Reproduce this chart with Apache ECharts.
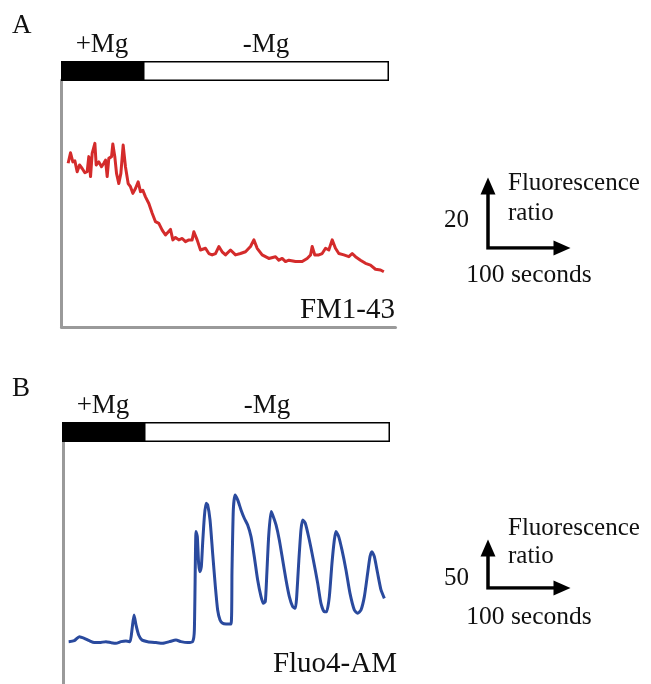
<!DOCTYPE html>
<html>
<head>
<meta charset="utf-8">
<script src="https://cdn.jsdelivr.net/npm/echarts@6/dist/echarts.min.js"></script>
<style>
  html, body { margin: 0; padding: 0; background: #fff; }
  #chart { width: 651px; height: 684px; }
</style>
</head>
<body>
<div id="chart"></div>
<script>
// Panel A: FM1-43 fluorescence ratio over time (seconds)
const tA = [8.1,11.0,13.8,16.3,19.1,22.0,25.2,28.5,31.3,33.3,
  35.4,37.4,40.7,42.3,45.5,48.8,51.6,53.7,55.7,57.7,
  61.0,62.6,65.0,67.1,69.9,72.4,75.2,78.0,81.3,84.1,
  87.0,90.2,93.5,96.3,99.2,102.4,106.5,110.6,114.6,118.7,
  122.8,126.8,132.9,135.8,139.0,143.1,147.2,151.2,155.3,159.3,
  161.4,165.4,169.5,175.6,179.7,183.7,187.8,191.9,195.9,200.0,
  206.1,212.2,218.3,224.4,230.5,234.6,238.6,244.7,252.8,261.0,
  265.0,269.1,273.2,277.2,285.4,293.5,299.6,303.7,305.7,308.9,
  313.8,317.9,322.0,326.0,330.1,334.1,338.2,344.3,350.4,354.5,
  358.5,364.6,370.7,376.8,382.9,389.0,393.1];
const fm143 = [46.8,49.8,47.2,47.5,44.4,46.3,45.3,44.1,44.4,48.7,
  43.0,49.6,52.5,46.3,47.2,45.8,46.8,47.7,43.0,48.2,
  48.7,52.3,48.7,43.9,41.0,43.9,52.0,45.8,41.0,40.1,
  38.2,39.6,41.5,38.7,39.1,37.2,35.3,32.5,30.1,29.6,
  27.7,26.3,27.9,24.9,25.6,24.9,25.3,24.4,24.9,24.9,
  27.2,24.9,22.0,22.5,21.0,20.6,21.0,23.0,21.5,20.6,
  22.0,20.6,21.0,21.5,23.0,24.9,22.5,20.6,19.6,20.1,
  19.1,19.6,18.7,19.1,18.7,18.7,19.6,20.6,23.0,20.6,
  20.6,21.0,22.5,22.0,24.9,22.5,21.0,20.6,20.1,21.0,
  20.1,19.1,18.2,17.7,16.5,16.3,15.8];

// Panel B: Fluo4-AM fluorescence ratio over time (seconds)
const tB = [6.9,13.8,19.9,26.0,32.1,38.2,44.3,52.4,58.5,64.6,
  70.7,76.8,81.7,84.1,86.6,89.0,92.3,96.3,103.3,113.4,
  121.5,129.7,137.8,143.9,152.0,158.1,160.2,162.2,163.8,165.4,
  167.1,168.7,170.3,172.4,174.4,176.4,179.3,182.5,185.8,188.6,
  191.5,194.7,198.8,204.9,206.1,207.7,209.8,213.0,217.1,221.1,
  225.2,229.3,233.3,237.4,241.5,244.3,246.7,248.4,250.8,253.7,
  255.7,259.8,263.8,267.9,272.0,276.0,280.1,283.3,285.0,287.4,
  290.2,292.3,295.5,300.4,305.3,310.6,314.6,318.7,321.5,324.8,
  328.0,330.9,332.9,336.2,340.2,345.1,350.0,355.3,359.3,363.4,
  367.5,371.5,374.4,376.8,379.7,383.7,387.8,391.9];
const fluo4 = [44.1,45.1,49.3,47.6,45.1,43.1,43.1,44.1,43.1,42.4,
  44.1,44.8,44.1,56.3,71.9,61.5,51.0,45.8,44.1,43.1,
  42.4,44.1,45.8,44.1,43.1,44.1,56.3,158.7,153.5,125.7,
  117.0,122.2,146.5,174.3,188.2,186.5,170.8,136.1,101.4,77.1,
  66.7,63.2,62.5,62.5,118.8,181.3,196.9,191.7,181.3,172.6,
  165.6,153.5,132.6,108.3,91.0,84.0,85.8,111.8,153.5,179.5,
  176.0,165.6,150.0,129.2,108.3,91.0,80.6,78.8,91.0,125.7,
  160.4,170.8,167.4,150.0,129.2,104.9,84.0,75.3,75.3,91.0,
  125.7,150.0,158.7,153.5,139.6,118.8,94.4,77.1,73.6,77.1,
  91.0,115.3,132.6,137.8,132.6,115.3,97.9,89.2];

// Perfusion conditions (seconds)
const conditions = ['+Mg', '-Mg'];
const conditionDurations = [100, 300];

const panelLetters = ['A', 'B'];
const dyeNames = ['FM1-43', 'Fluo4-AM'];
const scaleRatio = [20, 50];
const scaleSeconds = 100;
const scaleLabels = ['Fluorescence', 'ratio', '100 seconds'];

const SERIF = '"Liberation Serif", "Times New Roman", serif';
const INK = '#111';
const AXIS_GRAY = '#9a9a9a';

const zip = (xs, ys) => xs.map((x, i) => [x, ys[i]]);

// Grid layout per panel: condition bar, trace, scale bar
const panels = [
  { bar: { left: 61, top: 61 }, trace: { left: 61.5, top: 80, height: 247, yMax: 70.6, bottomAxis: true },
    scale: { top: 186, height: 62 }, data: zip(tA, fm143), color: '#d42b2b', smooth: false },
  { bar: { left: 62, top: 422 }, trace: { left: 63, top: 442, height: 242, yMax: 252, bottomAxis: false },
    scale: { top: 548, height: 40 }, data: zip(tB, fluo4), color: '#2a4a9e', smooth: 0.2 }
];

const grid = [], xAxis = [], yAxis = [], series = [];
panels.forEach((p, k) => {
  const g0 = grid.length;
  grid.push({ left: p.bar.left, top: p.bar.top, width: 328, height: 20 });
  grid.push({ left: p.trace.left, top: p.trace.top, width: 334, height: p.trace.height });
  grid.push({ left: 488, top: p.scale.top, width: 74, height: p.scale.height });

  // condition bar axes
  xAxis.push({ gridIndex: g0, type: 'value', min: 0, max: 400, show: false });
  yAxis.push({ gridIndex: g0, type: 'category', data: ['perfusion'], show: false });
  // trace axes
  xAxis.push({ gridIndex: g0 + 1, type: 'value', min: 0, max: 334 / 0.82,
    axisLine: { show: p.trace.bottomAxis, lineStyle: { color: AXIS_GRAY, width: 3 } },
    axisTick: { show: false }, axisLabel: { show: false }, splitLine: { show: false } });
  yAxis.push({ gridIndex: g0 + 1, type: 'value', min: 0, max: p.trace.yMax,
    axisLine: { show: true, lineStyle: { color: AXIS_GRAY, width: 3 } },
    axisTick: { show: false }, axisLabel: { show: false }, splitLine: { show: false } });
  // scale bar axes
  xAxis.push({ gridIndex: g0 + 2, type: 'value', min: 0, max: scaleSeconds, show: false });
  yAxis.push({ gridIndex: g0 + 2, type: 'value', min: 0, max: scaleRatio[k], show: false });

  conditions.forEach((c, i) => {
    series.push({
      type: 'bar', name: c, stack: 'cond' + k, xAxisIndex: g0, yAxisIndex: g0,
      barWidth: '100%', silent: true,
      data: [conditionDurations[i]],
      itemStyle: { color: i === 0 ? '#000' : '#fff', borderColor: '#000', borderWidth: 1.5 },
      label: { show: true, position: 'top', distance: 3, formatter: c,
        fontFamily: SERIF, fontSize: 27, color: INK }
    });
  });

  series.push({
    type: 'line', name: dyeNames[k], xAxisIndex: g0 + 1, yAxisIndex: g0 + 1,
    data: p.data, showSymbol: false, symbol: 'none', smooth: p.smooth,
    lineStyle: { color: p.color, width: 3, join: 'round' }, silent: true
  });

  series.push({
    type: 'line', xAxisIndex: g0 + 2, yAxisIndex: g0 + 2, silent: true,
    data: [[0, scaleRatio[k]], [0, 0], [scaleSeconds, 0]],
    symbol: 'none', lineStyle: { color: '#000', width: 3.5, join: 'miter', cap: 'butt' },
    markPoint: {
      symbol: 'triangle', symbolSize: [15, 17], itemStyle: { color: '#000' },
      label: { show: false }, silent: true,
      data: [
        { coord: [0, scaleRatio[k]], symbolRotate: 0 },
        { coord: [scaleSeconds, 0], symbolRotate: -90 }
      ]
    }
  });
});

function txt(text, x, y, size, align) {
  return { type: 'text', x: x, y: y, silent: true,
    style: { text: text, font: size + 'px ' + SERIF, fill: INK,
      textAlign: align || 'left', textVerticalAlign: 'middle' } };
}

const graphic = [
  txt(panelLetters[0], 12, 26, 27),
  txt(panelLetters[1], 12, 389, 27),
  txt(dyeNames[0], 395, 310, 29, 'right'),
  txt(dyeNames[1], 397, 664, 29, 'right'),
  txt(String(scaleRatio[0]), 469, 220, 25, 'right'),
  txt(scaleLabels[0], 508, 183, 25),
  txt(scaleLabels[1], 508, 213, 25),
  txt(scaleLabels[2], 529, 275, 25.5, 'center'),
  txt(String(scaleRatio[1]), 469, 578, 25, 'right'),
  txt(scaleLabels[0], 508, 528, 25),
  txt(scaleLabels[1], 508, 556, 25),
  txt(scaleLabels[2], 529, 617, 25.5, 'center')
];

const chart = echarts.init(document.getElementById('chart'), null, { renderer: 'canvas' });
chart.setOption({
  backgroundColor: '#fff',
  animation: false,
  grid: grid, xAxis: xAxis, yAxis: yAxis, series: series, graphic: graphic
});
</script>
</body>
</html>
